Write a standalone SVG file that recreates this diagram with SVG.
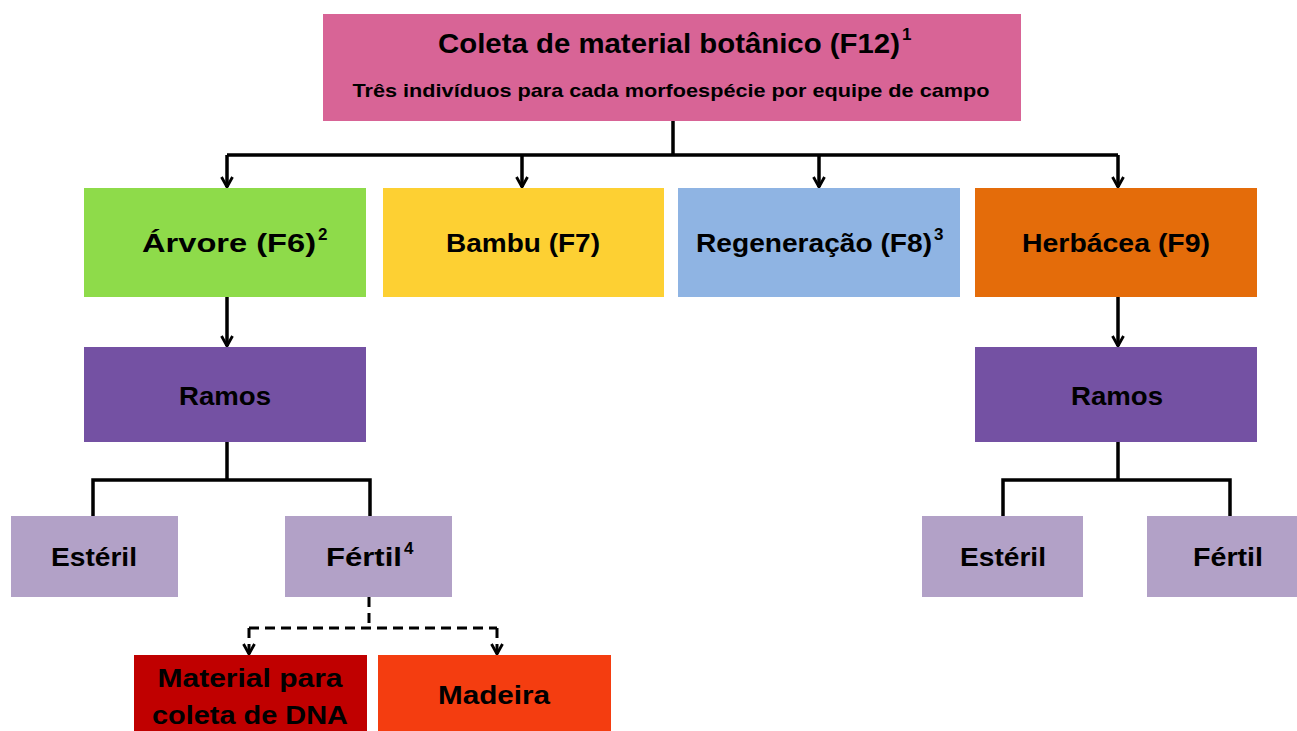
<svg xmlns="http://www.w3.org/2000/svg" width="1297" height="731" viewBox="0 0 1297 731">
<defs>
<marker id="arr" viewBox="0 0 14 14" refX="12" refY="7" markerWidth="14" markerHeight="14" markerUnits="userSpaceOnUse" orient="auto">
<path d="M2,1.5 L12,7 L2,12.5" fill="none" stroke="#000" stroke-width="2.8"/>
</marker>
<style>
.lbl{font-family:"Liberation Sans",Arial,sans-serif;font-weight:bold;fill:#000;text-anchor:middle}
.sup{font-family:"Liberation Sans",Arial,sans-serif;font-weight:bold;fill:#000;font-size:17px}
.ln{fill:none;stroke:#000;stroke-width:3.5}
.arrow{fill:none;stroke:#000;stroke-width:3.5;marker-end:url(#arr)}
.dash{fill:none;stroke:#000;stroke-width:3;stroke-dasharray:10,6}
.dasharrow{fill:none;stroke:#000;stroke-width:3;stroke-dasharray:10,6;marker-end:url(#arr)}
</style>
</defs>
<rect width="1297" height="731" fill="#fff"/>
<g id="connectors">
<path class="ln" d="M673,121 V155 M227,155 H1118"/>
<path class="arrow" d="M227,155 V187"/>
<path class="arrow" d="M522,155 V187"/>
<path class="arrow" d="M819,155 V187"/>
<path class="arrow" d="M1118,155 V187"/>
<path class="arrow" d="M227,297 V346"/>
<path class="arrow" d="M1118,297 V346"/>
<path class="ln" d="M227,442 V480 M93,516 V480 H370 V516"/>
<path class="ln" d="M1118,442 V480 M1003,516 V480 H1230 V516"/>
<path class="dash" d="M369,597 V628 M249,628 H497"/>
<path class="dasharrow" d="M249,628 V654"/>
<path class="dasharrow" d="M497,628 V654"/>
</g>
<g id="top">
<rect x="323" y="14" width="698" height="107" fill="#D86496"/>
<text class="lbl" x="669" y="53" font-size="27" textLength="462" lengthAdjust="spacingAndGlyphs">Coleta de material botânico (F12)</text>
<text class="sup" x="902" y="40">1</text>
<text class="lbl" x="671" y="97" font-size="19" textLength="637" lengthAdjust="spacingAndGlyphs">Três indivíduos para cada morfoespécie por equipe de campo</text>
</g>
<g id="arvore">
<rect x="84" y="188" width="282" height="109" fill="#8EDB4A"/>
<text class="lbl" x="229" y="252" font-size="26" textLength="174" lengthAdjust="spacingAndGlyphs">Árvore (F6)</text>
<text class="sup" x="318" y="240">2</text>
</g>
<g id="bambu">
<rect x="383" y="188" width="281" height="109" fill="#FDD033"/>
<text class="lbl" x="523" y="252" font-size="26" textLength="154" lengthAdjust="spacingAndGlyphs">Bambu (F7)</text>
</g>
<g id="regeneracao">
<rect x="678" y="188" width="282" height="109" fill="#8FB4E3"/>
<text class="lbl" x="814" y="252" font-size="26" textLength="236" lengthAdjust="spacingAndGlyphs">Regeneração (F8)</text>
<text class="sup" x="934" y="240">3</text>
</g>
<g id="herbacea">
<rect x="975" y="188" width="282" height="109" fill="#E46C0A"/>
<text class="lbl" x="1116" y="252" font-size="26" textLength="188" lengthAdjust="spacingAndGlyphs">Herbácea (F9)</text>
</g>
<g id="ramos-left">
<rect x="84" y="347" width="282" height="95" fill="#7451A3"/>
<text class="lbl" x="225" y="405" font-size="26" textLength="92" lengthAdjust="spacingAndGlyphs">Ramos</text>
</g>
<g id="ramos-right">
<rect x="975" y="347" width="282" height="95" fill="#7451A3"/>
<text class="lbl" x="1117" y="405" font-size="26" textLength="92" lengthAdjust="spacingAndGlyphs">Ramos</text>
</g>
<g id="esteril-left">
<rect x="11" y="516" width="167" height="81" fill="#B2A1C7"/>
<text class="lbl" x="94" y="566" font-size="26" textLength="86" lengthAdjust="spacingAndGlyphs">Estéril</text>
</g>
<g id="fertil-left">
<rect x="285" y="516" width="167" height="81" fill="#B2A1C7"/>
<text class="lbl" x="364" y="566" font-size="26" textLength="76" lengthAdjust="spacingAndGlyphs">Fértil</text>
<text class="sup" x="404" y="554">4</text>
</g>
<g id="esteril-right">
<rect x="922" y="516" width="161" height="81" fill="#B2A1C7"/>
<text class="lbl" x="1003" y="566" font-size="26" textLength="86" lengthAdjust="spacingAndGlyphs">Estéril</text>
</g>
<g id="fertil-right">
<rect x="1147" y="516" width="150" height="81" fill="#B2A1C7"/>
<text class="lbl" x="1228" y="566" font-size="26" textLength="70" lengthAdjust="spacingAndGlyphs">Fértil</text>
</g>
<g id="material">
<rect x="134" y="655" width="233" height="76" fill="#C00000"/>
<text class="lbl" x="250" y="687" font-size="26" textLength="185" lengthAdjust="spacingAndGlyphs">Material para</text>
<text class="lbl" x="250" y="724" font-size="26" textLength="196" lengthAdjust="spacingAndGlyphs">coleta de DNA</text>
</g>
<g id="madeira">
<rect x="378" y="655" width="233" height="76" fill="#F43D10"/>
<text class="lbl" x="494" y="704" font-size="26" textLength="112" lengthAdjust="spacingAndGlyphs">Madeira</text>
</g>
</svg>
